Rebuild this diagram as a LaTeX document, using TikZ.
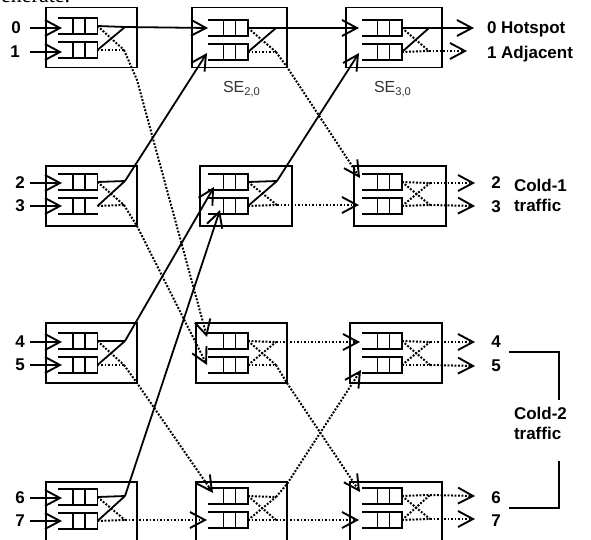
\documentclass[tikz,border=0pt]{standalone}
\usepackage{fontspec}
\setmainfont{Liberation Sans}
\newfontfamily\serifcut{Liberation Serif}
\usetikzlibrary{arrows.meta}
\tikzset{
  sebox/.style={draw=black,line width=1.7pt,inner sep=0pt,outer sep=0pt},
  qn/.style={inner sep=0pt,outer sep=0pt,minimum width=40pt,minimum height=16pt},
  ql/.style={line width=1.7pt,line join=miter},
  bighead/.style={-{Straight Barb[length=15pt,width=16pt,line width=1.9pt]}},
  sol/.style={line width=1.8pt,line join=round},
  solid arrow/.style={sol,bighead},
  dot/.style={line width=2pt,dash pattern=on 1.9pt off 1.6pt},
  dot arrow/.style={dot,bighead},
  lab/.style={font=\fontsize{17}{19}\selectfont\bfseries,inner sep=0pt,outer sep=0pt,text=black},
  selab/.style={font=\fontsize{16}{18}\selectfont,inner sep=0pt,outer sep=0pt,text=black!80,anchor=base west},
  brack/.style={line width=1.5pt,line join=miter}
}
\newcommand\SEbox[5]{\node[sebox,minimum width=#4pt,minimum height=#5pt] (#1) at (#2,#3) {};}
\newcommand\queue[3]{%
  \node[qn] (#1) at (#2+20,#3) {};
  \draw[ql] (#1.north west) -- (#1.north east) -- (#1.south east) -- (#1.south west);
  \draw[ql] ([xshift=15.5pt]#1.north west) -- ([xshift=15.5pt]#1.south west);
  \draw[ql] ([xshift=27.5pt]#1.north west) -- ([xshift=27.5pt]#1.south west);
}
\newcommand\queueopen[3]{%
  \node[qn] (#1) at (#2+20,#3) {};
  \draw[ql] (#1.north east) -- (#1.north west);
  \draw[ql] (#1.south east) -- (#1.south west);
  \draw[ql] ([xshift=15.5pt]#1.north west) -- ([xshift=15.5pt]#1.south west);
  \draw[ql] ([xshift=27.5pt]#1.north west) -- ([xshift=27.5pt]#1.south west);
}
\begin{document}
\begin{tikzpicture}[x=1pt,y=-1pt]
\useasboundingbox (0,0) rectangle (591,540);
\clip (0,0) rectangle (591,540);
\fill[white] (0,0) rectangle (591,540);
% cut-off line of running text at the top
\node[font=\serifcut\fontsize{22}{24}\selectfont,anchor=base west,inner sep=0pt] (cut) at (1,3) {enerate.};
% boxes
\SEbox{b00}{91.5}{37.5}{91}{60}
\SEbox{b01}{239.5}{37.5}{95}{60}
\SEbox{b02}{394}{37.5}{96}{60}
\SEbox{b10}{91.5}{196}{91}{60}
\SEbox{b11}{246}{196}{92}{60}
\SEbox{b12}{400}{196}{92}{60}
\SEbox{b20}{91.5}{353}{91}{60}
\SEbox{b21}{241.5}{353}{91}{60}
\SEbox{b22}{396}{353}{92}{60}
\SEbox{b30}{91.5}{512}{91}{60}
\SEbox{b31}{241.5}{512}{91}{60}
\SEbox{b32}{396}{512}{92}{60}
% queues
\queue{q00a}{57.5}{26}\queue{q00b}{57.5}{50}
\queue{q01a}{208}{28}\queue{q01b}{208}{52}
\queue{q02a}{362}{28}\queue{q02b}{362}{52}
\queue{q10a}{57.5}{182}\queueopen{q10b}{57.5}{206}
\queue{q11a}{208}{182}\queue{q11b}{208}{206}
\queue{q12a}{362}{182}\queue{q12b}{362}{206}
\queue{q20a}{57.5}{341}\queue{q20b}{57.5}{365}
\queue{q21a}{208}{341}\queue{q21b}{208}{365}
\queue{q22a}{362}{341}\queue{q22b}{362}{365}
\queue{q30a}{57.5}{497}\queue{q30b}{57.5}{521}
\queue{q31a}{208}{496}\queue{q31b}{208}{520}
\queue{q32a}{362}{496}\queue{q32b}{362}{520}
% switch points
\coordinate (s00a) at (125,27);\coordinate (s00b) at (124,50);
\coordinate (s01a) at (276,28);\coordinate (s01b) at (276,52);
\coordinate (s02a) at (429,28);\coordinate (s02b) at (429,51);
\coordinate (s10a) at (125,181);\coordinate (s10b) at (124,205);
\coordinate (s11a) at (277,181);\coordinate (s11b) at (277,205);
\coordinate (s12a) at (430,183);\coordinate (s12b) at (430,205);
\coordinate (s20a) at (125,341);\coordinate (s20b) at (124,365);
\coordinate (s21a) at (276,342);\coordinate (s21b) at (276,365);
\coordinate (s22a) at (430,342);\coordinate (s22b) at (430,365);
\coordinate (s30a) at (125,496);\coordinate (s30b) at (125,520);
\coordinate (s31a) at (276,497);\coordinate (s31b) at (276,520);
\coordinate (s32a) at (430,495);\coordinate (s32b) at (430,519);
% input tips
\coordinate (t01a) at (208,28);\coordinate (t01b) at (207,53);
\coordinate (t02a) at (359,28);\coordinate (t02b) at (359,53);
\coordinate (t11a) at (214,187);\coordinate (t11b) at (220,210);
\coordinate (t12a) at (360,178);\coordinate (t12b) at (359,205);
\coordinate (t21a) at (207,337);\coordinate (t21b) at (207,365);
\coordinate (t22a) at (360,342);\coordinate (t22b) at (361,370);
\coordinate (t31a) at (213,493);\coordinate (t31b) at (207,520);
\coordinate (t32a) at (360,492);\coordinate (t32b) at (359,520);
% labels and inputs
\foreach \n/\x/\y in {0/16/28,1/15/52,2/20/183,3/20/206,4/20/342,5/20/365,6/20/498,7/20/521}
  {\node[lab] (in\n) at (\x,\y) {\n};
   \coordinate (from\n) at (30,\y);
   \coordinate (tip\n) at (62,\y);
   \draw[solid arrow] (from\n) -- (tip\n);}
\node[lab,anchor=base west] (o0) at (487,33.5) {0 Hotspot};
\node[lab,anchor=base west] (o1) at (487,58.5) {1 Adjacent};
\foreach \n/\y in {2/183,3/207,4/342,5/366,6/498,7/521}
  {\node[lab] (o\n) at (496,\y) {\n};}
\node[lab,anchor=base west] (c1a) at (514,191.5) {Cold-1};
\node[lab,anchor=base west] (c1b) at (514,211.5) {traffic};
\node[lab,anchor=base west] (c2a) at (514,419.5) {Cold-2};
\node[lab,anchor=base west] (c2b) at (514,439.5) {traffic};
\node[selab] (se20) at (223,93) {SE\textsubscript{2,0}};
\node[selab] (se30) at (374,93) {SE\textsubscript{3,0}};
% output tips
\coordinate (e0) at (474,28);\coordinate (e1) at (467,51);
\coordinate (e2) at (475,183);\coordinate (e3) at (475,206);
\coordinate (e4) at (475,342);\coordinate (e5) at (475,366);
\coordinate (e6) at (475,496);\coordinate (e7) at (475,519);
% solid crossing inside switches
\foreach \k in {00,10,20,30,01,11,02}{
  \draw[sol] (q\k a.east) -- (s\k a);
  \draw[sol] (q\k b.east) -- (s\k a);
}
% dotted crossing inside switches
\foreach \k in {00,10,20,30,01,11,02,12,21,22,31,32}{
  \draw[dot] (q\k a.east) -- (s\k b);
  \draw[dot] (q\k b.east) -- (s\k b);
}
\foreach \k in {12,21,22,31,32}{
  \draw[dot] (q\k a.east) -- (s\k a);
  \draw[dot] (q\k b.east) -- (s\k a);
}
% way points
\coordinate (w00) at (137,80);\coordinate (w10) at (137,226);
\coordinate (w20) at (137,383);\coordinate (w01) at (287,67);
\coordinate (w21) at (287,383);\coordinate (w31) at (287,484);
% column 1 to 2
\draw[solid arrow] (s00a) -- (t01a);
\draw[solid arrow] (s10a) -- (t01b);
\draw[solid arrow] (s20a) -- (t11a);
\draw[solid arrow] (s30a) -- (t11b);
\draw[dot arrow] (s00b) -- (w00) -- (t21a);
\draw[dot arrow] (s10b) -- (w10) -- (t21b);
\draw[dot arrow] (s20b) -- (w20) -- (t31a);
\draw[dot arrow] (s30b) -- (t31b);
% column 2 to 3
\draw[solid arrow] (s01a) -- (t02a);
\draw[solid arrow] (s11a) -- (t02b);
\draw[dot arrow] (s01b) -- (w01) -- (t12a);
\draw[dot arrow] (s11b) -- (t12b);
\draw[dot arrow] (s21a) -- (t22a);
\draw[dot arrow] (s21b) -- (w21) -- (t32a);
\draw[dot arrow] (s31a) -- (w31) -- (t22b);
\draw[dot arrow] (s31b) -- (t32b);
% outputs
\draw[solid arrow] (s02a) -- (e0);
\draw[dot arrow] (s02b) -- (e1);
\draw[dot arrow] (s12a) -- (e2);
\draw[dot arrow] (s12b) -- (e3);
\draw[dot arrow] (s22a) -- (e4);
\draw[dot arrow] (s22b) -- (e5);
\draw[dot arrow] (s32a) -- (e6);
\draw[dot arrow] (s32b) -- (e7);
% cold-2 bracket
\coordinate (br1) at (509,352);\coordinate (br2) at (559,352);\coordinate (br3) at (559,400);
\coordinate (br4) at (559,461);\coordinate (br5) at (559,508);\coordinate (br6) at (509,508);
\draw[brack] (br1) -- (br2) -- (br3);
\draw[brack] (br4) -- (br5) -- (br6);
\end{tikzpicture}
\end{document}
